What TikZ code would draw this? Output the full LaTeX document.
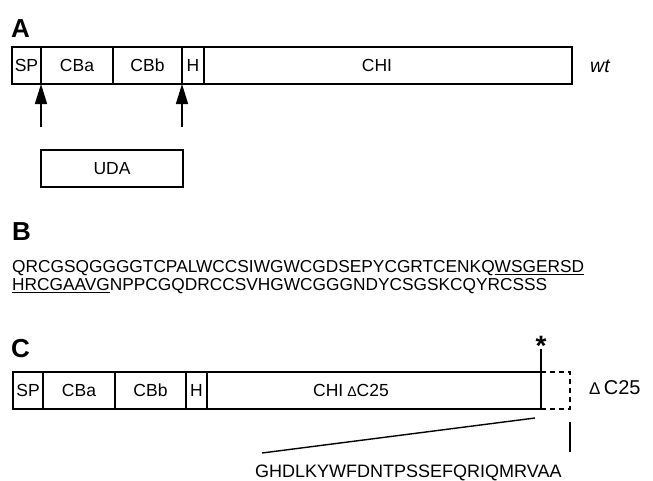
\documentclass[tikz,border=0pt]{standalone}
\usepackage{fontspec}
\setmainfont{Liberation Sans}
\usetikzlibrary{arrows.meta}
\begin{document}
\begin{tikzpicture}[x=1pt,y=-1pt,
  seg/.style={draw, line width=1.4pt, minimum height=37pt, inner sep=0pt, outer sep=0pt, anchor=west, font=\fontsize{17.5}{20}\selectfont},
  panel/.style={font=\fontsize{26}{28}\selectfont\bfseries, inner sep=0pt, anchor=base west},
  seq/.style={font=\fontsize{17.3}{20}\selectfont, inner sep=0pt, anchor=base west},
  conn/.style={line width=1.4pt},
  uparrow/.style={line width=1.6pt, -{Triangle[length=20pt,width=12pt]}}]
\useasboundingbox (0,0) rectangle (653,480);
% ---- panel A ----
\node[panel] (lA) at (11,37) {A};
\node[seg, minimum width=29pt] (sp) at (12,65.5) {SP};
\node[seg, minimum width=72pt] (cba) at (41,65.5) {CBa};
\node[seg, minimum width=69pt] (cbb) at (113,65.5) {CBb};
\node[seg, minimum width=22pt] (h) at (182,65.5) {H};
\node[seg, minimum width=368pt] (chi) at (204,65.5) {\hspace*{-22pt}CHI};
\node[font=\fontsize{19.5}{22}\selectfont\itshape, inner sep=0pt, anchor=base west] (wt) at (590,72) {wt};
\coordinate (a1) at (41,127);
\coordinate (a2) at (182,127);
\draw[uparrow] (a1) -- (sp.south east);
\draw[uparrow] (a2) -- (cbb.south east);
\node[seg, minimum width=142pt] (uda) at (41,168.5) {UDA};
% ---- panel B ----
\node[panel] (lB) at (12,240) {B};
\node[seq] (sq1) at (12,272.5) {QRCGSQGGGGTCPALWCCSIWGWCGDSEPYCGRTCENKQ$\underline{\hbox{WSGERSD}}$};
\node[seq] (sq2) at (12,290.5) {$\underline{\hbox{HRCGAAVG}}$NPPCGQDRCCSVHGWCGGGNDYCSGSKCQYRCSSS};
% ---- panel C ----
\node[panel] (lC) at (11,357) {C};
\node[seg, minimum width=30pt] (sp2) at (13,390.5) {SP};
\node[seg, minimum width=72pt] (cba2) at (43,390.5) {CBa};
\node[seg, minimum width=71pt] (cbb2) at (115,390.5) {CBb};
\node[seg, minimum width=21pt] (h2) at (186,390.5) {H};
\node[seg, minimum width=334pt] (chi2) at (207,390.5) {\hspace*{-46pt}CHI\hspace{4pt}{\fontsize{14}{15}\selectfont Δ}C25};
\coordinate (dtr) at (570,372);
\coordinate (dbr) at (570,409);
\draw[conn, dash pattern=on 5pt off 4pt] (chi2.north east) -- (dtr) -- (dbr) -- (chi2.south east);
\node[font=\fontsize{28}{30}\selectfont\bfseries, inner sep=0pt, anchor=base] (star) at (541,355) {*};
\coordinate (stb) at (541,349);
\draw[conn] (stb) -- (chi2.south east);
\node[font=\fontsize{20}{22}\selectfont, inner sep=0pt, anchor=base west] (dlab) at (589,394) {{\fontsize{17}{18}\selectfont Δ}\,C25};
\node[font=\fontsize{18}{20}\selectfont, inner sep=0pt, anchor=base west] (tail) at (255,477.5) {GHDLKYWFDNTPSSEFQRIQMRVAA};
\coordinate (t1) at (535,418);
\coordinate (t2) at (262,453);
\draw[conn] (t1) -- (t2);
\coordinate (v1) at (570,422);
\coordinate (v2) at (570,452);
\draw[conn] (v1) -- (v2);
\end{tikzpicture}
\end{document}
